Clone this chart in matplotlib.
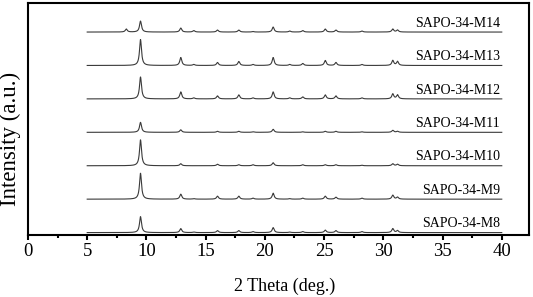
# -*- coding: utf-8 -*-
# XRD patterns of SAPO-34-M8 ... M14, stacked

import numpy as np
import matplotlib
matplotlib.use("Agg")
import matplotlib.pyplot as plt
from matplotlib.ticker import MultipleLocator

plt.rcParams['font.family'] = ['Liberation Serif', 'DejaVu Serif']

# sample names, bottom to top
samples = ['SAPO-34-M8', 'SAPO-34-M9', 'SAPO-34-M10', 'SAPO-34-M11',
           'SAPO-34-M12', 'SAPO-34-M13', 'SAPO-34-M14']

# reflection positions (2 theta, deg.)
peak_pos = [8.3, 9.5, 12.9, 14.0, 16.0, 17.8, 19.0, 20.7, 22.1, 23.2,
            25.1, 26.0, 28.2, 30.8, 31.2]

# peak heights (a.u.), one row per sample, same order as peak_pos
h_m8 = [0, 16, 4, 0.5, 2, 2, 1, 5, 0.5, 1, 2.5, 2, 1, 4, 2]
h_m9 = [0, 26, 5, 0.5, 3, 3, 1, 6, 0.5, 1, 3, 2, 1, 4, 2]
h_m10 = [0, 26, 2, 0, 1.5, 1, 1, 3, 0, 1, 1, 1, 0.5, 2, 1.5]
h_m11 = [0, 10, 2.5, 0, 1, 1, 0.5, 3, 0, 0.5, 1, 1, 0.5, 2, 1]
h_m12 = [0, 22, 7, 1, 3, 4, 1, 7, 1, 2, 4, 3, 1, 5, 4]
h_m13 = [0, 26, 8, 1, 3, 4, 1, 8, 1, 2, 5, 3, 1, 5, 4]
h_m14 = [3, 11, 4, 1.5, 2, 2, 0.5, 5, 1, 1.5, 3, 2, 1, 3, 2]
heights = [h_m8, h_m9, h_m10, h_m11, h_m12, h_m13, h_m14]

two_theta_range = (5.0, 40.0)


def pattern(x, pos, amp, fwhm=0.2):
    g = fwhm / 2.0
    y = np.zeros_like(x)
    for p, a in zip(pos, amp):
        y += a * g**2 / ((x - p)**2 + g**2)
    return y


x = np.arange(two_theta_range[0], two_theta_range[1] + 0.001, 0.01)
scale = 1 / 33.5   # one stacking step per ~33 px

fig, ax = plt.subplots(figsize=(5.33, 2.97), dpi=100)
fig.subplots_adjust(left=0.0525, right=0.9925, bottom=0.209, top=0.99)

for i, (name, h) in enumerate(zip(samples, heights)):
    y = i + pattern(x, peak_pos, h) * scale
    ax.plot(x, y, color='#3a3a3a', lw=0.8)
    ax.text(39.85, i + 0.07, name, ha='right', va='bottom', fontsize=10)

ax.set_xlim(0, 42.3)
ax.set_ylim(-0.07, 6.87)
ax.set_yticks([])
ax.xaxis.set_major_locator(MultipleLocator(5))
ax.xaxis.set_minor_locator(MultipleLocator(2.5))
ax.tick_params(axis='x', which='major', direction='out', length=3.6,
               width=1.5, pad=2.5, labelsize=13.5)
ax.tick_params(axis='x', which='minor', direction='out', length=2.2, width=1.5)
for s in ax.spines.values():
    s.set_linewidth(1.5)

ax.set_xlabel('2 Theta (deg.)', fontsize=13)
ax.set_ylabel('Intensity (a.u.)', fontsize=16.5)
ax.xaxis.set_label_coords(0.513, -0.185)
ax.yaxis.set_label_coords(-0.014, 0.414)

plt.savefig('out.png', dpi=100)
